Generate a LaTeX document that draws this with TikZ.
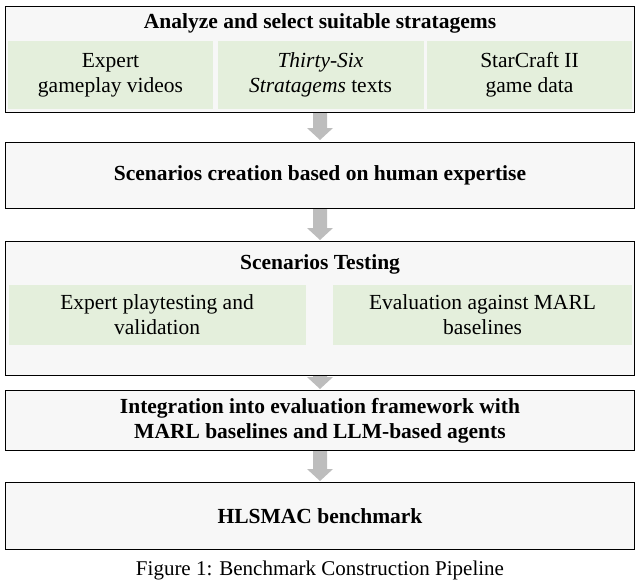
\documentclass[tikz,border=0pt]{standalone}
\usepackage{fontspec}
\setmainfont{Liberation Serif}
\definecolor{boxbg}{HTML}{F7F7F7}
\definecolor{grn}{HTML}{E4EFDC}
\definecolor{arr}{HTML}{BDBDBD}
\tikzset{
 outer/.style={draw=black,line width=1pt,fill=boxbg},
 inner/.style={fill=grn,draw=none,align=center,font=\fontsize{21.5}{25}\selectfont},
 ttl/.style={font=\fontsize{21.5}{25}\selectfont\bfseries,align=center},
 flow/.style={fill=arr,draw=none}
}
\newcommand{\grarrow}[3]{% x, ytop, ybottom
 \fill[flow] (#1-7,#2) -- (#1+7,#2) -- (#1+7,#3-12) -- (#1+13,#3-12) -- (#1,#3) -- (#1-13,#3-12) -- (#1-7,#3-12) -- cycle;}
\begin{document}
\begin{tikzpicture}[x=1pt,y=-1pt]
\useasboundingbox (0,0) rectangle (640,582);
\node[outer,minimum width=629pt,minimum height=106pt,anchor=north west,inner sep=0pt] (b1) at (5,6) {};
\node[ttl] (t1) at (320,23) {Analyze and select suitable stratagems};
\node[inner,minimum width=205pt,minimum height=68pt] (g1) at (110.5,75) {Expert\\gameplay videos};
\node[inner,minimum width=206pt,minimum height=68pt] (g2) at (320.5,75) {\textit{Thirty-Six}\\\textit{Stratagems} texts};
\node[inner,minimum width=205pt,minimum height=68pt] (g3) at (529.5,75) {StarCraft II\\game data};
\node[outer,minimum width=629pt,minimum height=66pt,anchor=north west] (b2) at (5,142) {};
\node[ttl] at (b2.center) {Scenarios creation based on human expertise};
\node[outer,minimum width=629pt,minimum height=134pt,anchor=north west] (b3) at (5,241) {};
\node[ttl] (t3) at (320,264) {Scenarios Testing};
\node[inner,minimum width=297pt,minimum height=60pt] (g4) at (157,315) {Expert playtesting and\\validation};
\node[inner,minimum width=299pt,minimum height=60pt] (g5) at (482.5,315) {Evaluation against MARL\\baselines};
\node[outer,minimum width=629pt,minimum height=60pt,anchor=north west] (b4) at (5,390) {};
\node[ttl] at (b4.center) {Integration into evaluation framework with\\MARL baselines and LLM-based agents};
\node[outer,minimum width=629pt,minimum height=67pt,anchor=north west] (b5) at (5,482) {};
\node[ttl] at (b5.center) {HLSMAC benchmark};
\grarrow{320}{113}{140}
\grarrow{320}{209}{240}
\grarrow{320}{376}{389}
\grarrow{320}{451}{481}
\node[font=\fontsize{21}{25}\selectfont] (cap) at (320,570) {Figure 1: Benchmark Construction Pipeline};
\end{tikzpicture}
\end{document}
